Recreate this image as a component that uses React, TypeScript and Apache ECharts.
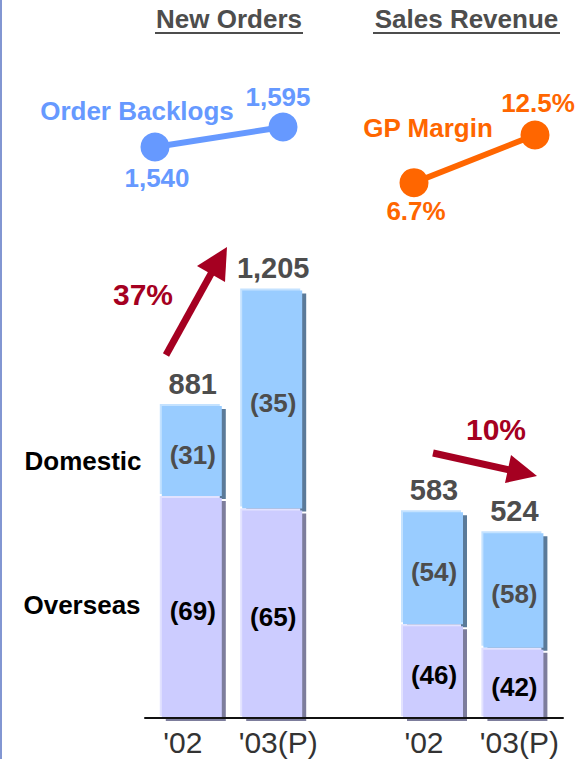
import React, { useEffect, useRef } from "react";
import * as echarts from "echarts";

// ---- data ----
const categories = ["'02", "'03(P)", "", "'02", "'03(P)"];
const barSlots = [0, 1, 3, 4];
const overseasValues = [623, 588, 263, 197];
const domesticValues = [258, 617, 320, 327];
const overseasShare = [69, 65, 46, 42];
const domesticShare = [31, 35, 54, 58];
const backlogPeriods = ["'02", "'03(P)"];
const backlogValues = [1540, 1595];
const gpMarginValues = [6.7, 12.5];
const newOrdersGrowth = "37%";
const salesGrowth = "10%";

const FONT = '"Liberation Sans", Arial, sans-serif';
const BLUE = "#6699ff";
const ORANGE = "#ff6600";
const RED = "#a50021";
const GRAY = "#4d4d4d";

const DOM = { light: "#c4e2ff", main: "#99ccff", shadow: "#5b7a99" };
const OVS = { light: "#e2e2ff", main: "#ccccff", shadow: "#7d7d9c" };

function txt(text: string, x: number, y: number, size: number, fill: string, weight = "bold") {
  return {
    type: "text",
    x,
    y,
    z: 50,
    style: {
      text,
      fill,
      fontSize: size,
      fontWeight: weight,
      fontFamily: FONT,
      align: "center",
      verticalAlign: "middle",
      textAlign: "center",
      textVerticalAlign: "middle",
    },
  };
}

export default function App() {
  const ref = useRef<HTMLDivElement>(null);
  useEffect(() => {
    if (!ref.current) return;
    const chart = echarts.init(ref.current, undefined, { renderer: "svg" });

    const barData = barSlots.map((s, i) => [s, overseasValues[i], overseasValues[i] + domesticValues[i]]);

    const renderItem = (params: any, api: any) => {
      const i = params.dataIndex;
      const xi = api.value(0);
      const ov = api.value(1);
      const tot = api.value(2);
      const base = api.coord([xi, 0]);
      const mid = api.coord([xi, ov]);
      const top = api.coord([xi, tot]);
      const cx = base[0];
      const w = 60;
      const x0 = cx - 33;
      const seg = (yTop: number, yBot: number, c: any) => {
        const h = yBot - yTop;
        return [
          { type: "rect", shape: { x: x0 + 6, y: yTop + 5, width: w, height: h - 2 }, style: { fill: c.shadow } },
          { type: "rect", shape: { x: x0, y: yTop, width: w, height: h - 2 }, style: { fill: c.light } },
          { type: "rect", shape: { x: x0 + 2, y: yTop + 2, width: w, height: h - 2 }, style: { fill: c.main } },
        ];
      };
      const total = (overseasValues[i] + domesticValues[i]).toLocaleString("en-US");
      return {
        type: "group",
        children: [
          ...seg(top[1], mid[1], DOM),
          ...seg(mid[1], base[1], OVS),
          txt(total, cx, top[1] - 20, 29, GRAY),
          txt(`(${domesticShare[i]})`, cx, (top[1] + mid[1]) / 2 + 5, 26, GRAY),
          txt(`(${overseasShare[i]})`, cx, (mid[1] + base[1]) / 2 + 4, 26, "#000"),
        ],
      };
    };

    const option: any = {
      animation: false,
      grid: [
        { left: 152.6, width: 402, top: 5, bottom: 41 },
        { left: 145, width: 418, top: 5, bottom: 41 },
        { left: 155, width: 128, top: 107, height: 54.5 },
        { left: 414, width: 121, top: 114.45, height: 82.2 },
      ],
      xAxis: [
        {
          gridIndex: 0,
          type: "category",
          data: categories,
          axisLine: { show: false },
          axisTick: { show: false },
          axisLabel: {
            margin: 9,
            formatter: (v: string, idx: number) => (v === "'02" ? `{l|${v}}` : `{r|${v}}`),
            rich: {
              l: { fontSize: 30, fontFamily: FONT, color: "#333", padding: [0, 20, 0, 0] },
              r: { fontSize: 30, fontFamily: FONT, color: "#333", padding: [0, 0, 0, 10] },
            },
          },
        },
        {
          gridIndex: 1,
          type: "category",
          data: categories,
          z: 10,
          axisLine: { show: true, lineStyle: { color: "#111", width: 2 } },
          axisTick: { show: false },
          axisLabel: { show: false },
        },
        { gridIndex: 2, type: "category", data: backlogPeriods, boundaryGap: false, show: false },
        { gridIndex: 3, type: "category", data: backlogPeriods, boundaryGap: false, show: false },
      ],
      yAxis: [
        { gridIndex: 0, type: "value", min: 0, max: 2000, show: false },
        { gridIndex: 1, type: "value", min: 0, max: 2000, show: false },
        { gridIndex: 2, type: "value", min: 1500, max: 1650, show: false },
        { gridIndex: 3, type: "value", min: 5, max: 15, show: false },
      ],
      series: [
        {
          type: "custom",
          xAxisIndex: 0,
          yAxisIndex: 0,
          renderItem,
          encode: { x: 0, y: [1, 2] },
          data: barData,
          clip: false,
        },
        {
          type: "line",
          xAxisIndex: 2,
          yAxisIndex: 2,
          symbol: "circle",
          symbolSize: 29,
          lineStyle: { color: BLUE, width: 6 },
          itemStyle: { color: BLUE },
          label: {
            show: true,
            color: BLUE,
            fontSize: 26,
            fontWeight: "bold",
            fontFamily: FONT,
            formatter: (p: any) => Number(p.value).toLocaleString("en-US"),
          },
          data: [
            { value: backlogValues[0], label: { position: "bottom", distance: 4, offset: [2, 0] } },
            { value: backlogValues[1], label: { position: "top", distance: 2, offset: [-5, 0] } },
          ],
        },
        {
          type: "line",
          xAxisIndex: 3,
          yAxisIndex: 3,
          symbol: "circle",
          symbolSize: 29,
          lineStyle: { color: ORANGE, width: 6 },
          itemStyle: { color: ORANGE },
          label: {
            show: true,
            color: ORANGE,
            fontSize: 26,
            fontWeight: "bold",
            fontFamily: FONT,
            formatter: (p: any) => `${p.value}%`,
          },
          data: [
            { value: gpMarginValues[0], label: { position: "bottom", distance: 1, offset: [2, 0] } },
            { value: gpMarginValues[1], label: { position: "top", distance: 5, offset: [3, 0] } },
          ],
        },
      ],
      graphic: [
        { type: "rect", shape: { x: 0, y: 0, width: 2, height: 759 }, style: { fill: "#8296d2" } },
        txt("New Orders", 229, 19, 26, GRAY),
        { type: "rect", shape: { x: 155, y: 32, width: 148, height: 2 }, style: { fill: GRAY } },
        txt("Sales Revenue", 466.5, 19, 26, GRAY),
        { type: "rect", shape: { x: 373, y: 32, width: 187, height: 2 }, style: { fill: GRAY } },
        txt("Order Backlogs", 137, 111, 26, BLUE),
        txt("GP Margin", 428, 128, 26, ORANGE),
        txt("Domestic", 83, 461, 26, "#000"),
        txt("Overseas", 82, 605, 26, "#000"),
        txt(newOrdersGrowth, 143, 294, 30, RED),
        txt(salesGrowth, 496, 429, 30, RED),
        {
          type: "polyline",
          shape: { points: [[166, 355], [212, 272]] },
          style: { stroke: RED, lineWidth: 7, fill: null },
        },
        {
          type: "polygon",
          shape: { points: [[227, 247], [197, 266], [225, 282]] },
          style: { fill: RED },
        },
        {
          type: "polyline",
          shape: { points: [[433, 453], [510, 470]] },
          style: { stroke: RED, lineWidth: 7, fill: null },
        },
        {
          type: "polygon",
          shape: { points: [[537, 476], [511, 455], [505, 483]] },
          style: { fill: RED },
        },
      ],
    };
    chart.setOption(option);
    return () => chart.dispose();
  }, []);
  return (
    <div
      ref={ref}
      style={{ position: "fixed", left: 0, top: 0, width: 578, height: 759, background: "#fff" }}
    />
  );
}
